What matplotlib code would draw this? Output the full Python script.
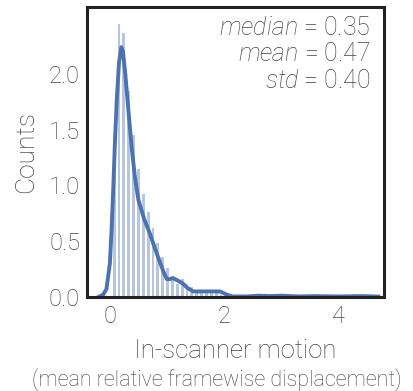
import matplotlib
matplotlib.use("Agg")
import matplotlib.pyplot as plt

# histogram bars (bin centre, height)
bin_centers = [0.075, 0.16, 0.245, 0.33, 0.415, 0.50, 0.585, 0.67, 0.755, 0.84,
               0.925, 1.01, 1.095, 1.18, 1.265, 1.35, 1.435, 1.52, 1.605, 1.69,
               1.775, 1.86, 1.945, 2.03, 2.2, 2.6, 3.3, 4.4]
bin_heights = [1.45, 2.45, 2.37, 1.85, 1.45, 1.15, 0.92, 0.76, 0.62, 0.48,
               0.36, 0.26, 0.18, 0.12, 0.16, 0.12, 0.09, 0.06, 0.05, 0.05,
               0.04, 0.04, 0.02, 0.01, 0.01, 0.01, 0.01, 0.01]

# density curve
kde_x = [-0.2, -0.12, -0.06, 0.0, 0.03, 0.06, 0.09, 0.12, 0.16, 0.2, 0.23, 0.27,
         0.32, 0.38, 0.44, 0.5, 0.6, 0.7, 0.8, 0.9, 0.96, 1.0, 1.05, 1.1, 1.18,
         1.28, 1.36, 1.46, 1.7, 1.93, 2.05, 2.15, 2.4, 2.6, 2.8, 3.0, 3.3, 3.6,
         4.0, 4.4, 4.7]
kde_y = [0.0, 0.02, 0.07, 0.3, 0.6, 0.98, 1.4, 1.76, 2.1, 2.24, 2.2, 2.0,
         1.7, 1.35, 1.07, 0.87, 0.7, 0.57, 0.42, 0.28, 0.2, 0.16, 0.16, 0.17, 0.15,
         0.12, 0.08, 0.05, 0.05, 0.05, 0.02, 0.005, 0.005, 0.012, 0.008, 0.012,
         0.005, 0.008, 0.005, 0.008, 0.004]

stats_lines = [("median", "0.35"), ("mean", "0.47"), ("std", "0.40")]

plt.rcParams["font.family"] = ["Roboto", "DejaVu Sans"]
plt.rcParams["font.weight"] = "light"
plt.rcParams["axes.labelweight"] = "light"
plt.rcParams["mathtext.fontset"] = "custom"
plt.rcParams["mathtext.it"] = "Roboto:italic:light"
plt.rcParams["mathtext.rm"] = "Roboto:light"

fig = plt.figure(figsize=(4.13, 3.91), dpi=100)
ax = fig.add_axes([0.2107, 0.2404, 0.7191, 0.7417])

blue = "#4c72b0"
grey = "#444444"
ax.bar(bin_centers, bin_heights, width=0.05, color=blue, alpha=0.4, linewidth=0)
ax.plot(kde_x, kde_y, color=blue, lw=2.8)

ax.set_xlim(-0.4, 4.8)
ax.set_ylim(0, 2.6)
ax.set_xticks([0, 2, 4])
ax.set_yticks([0.0, 0.5, 1.0, 1.5, 2.0])
ax.set_yticklabels(["0.0", "0.5", "1.0", "1.5", "2.0"])
ax.tick_params(length=0, labelsize=17, labelcolor=grey)
ax.tick_params(axis="x", pad=6)
ax.tick_params(axis="y", pad=5)

for s in ax.spines.values():
    s.set_color("#222222")
    s.set_linewidth(2.2)

ax.set_ylabel("Counts", fontsize=19, color=grey, labelpad=8)
ax.set_xlabel("In-scanner motion", fontsize=18.5, color=grey, labelpad=8)
fig.text(0.525, 0.012, "(mean relative framewise displacement)", ha="center",
         fontsize=15.5, color=grey)

for i, (name, val) in enumerate(stats_lines):
    ax.text(0.955, 0.928 - i * 0.091, r"$\it{%s}$ = %s" % (name, val),
            transform=ax.transAxes, ha="right", va="center", fontsize=18,
            color=grey)

fig.savefig("out.png", dpi=100)
